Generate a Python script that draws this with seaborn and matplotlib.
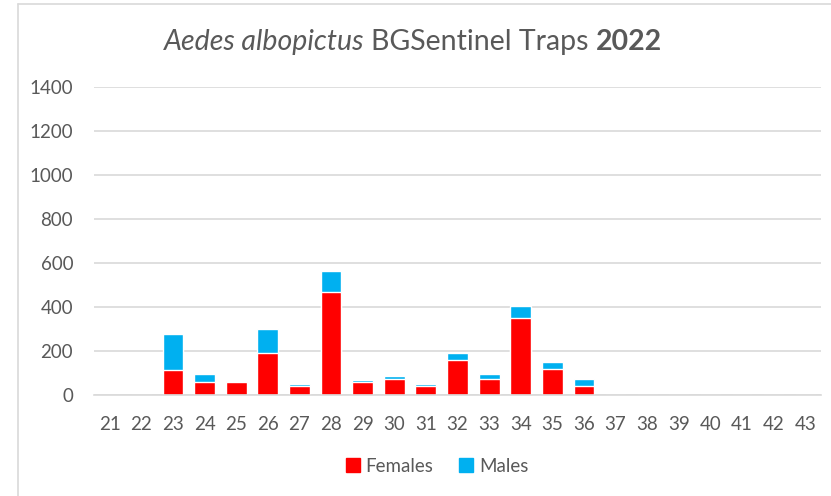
import matplotlib
matplotlib.use("Agg")
import matplotlib.pyplot as plt
import seaborn as sns
import pandas as pd
from matplotlib.patches import Patch
from matplotlib.lines import Line2D

weeks = [str(w) for w in range(21, 44)]
females = [0, 2, 115, 57, 58, 190, 40, 468, 58, 71, 40, 160, 72, 350, 120, 40,
           0, 0, 0, 0, 0, 0, 0]
males = [0, 0, 162, 38, 7, 112, 10, 94, 8, 17, 10, 32, 24, 53, 32, 35,
         0, 0, 0, 0, 0, 0, 0]
yticks = [0, 200, 400, 600, 800, 1000, 1200, 1400]

df = pd.DataFrame({"week": weeks, "Females": females, "Males": males})
df["total"] = df["Females"] + df["Males"]

sns.set_theme(style="white")
plt.rcParams["font.family"] = ["Lato", "DejaVu Sans"]
grey = "#595959"
red = "#FF0000"
blue = "#00B0F0"

fig = plt.figure(figsize=(8.31, 4.96), dpi=100)
ax = fig.add_axes([94 / 831, 1 - 395 / 496, (821 - 94) / 831, (395 - 87) / 496])

# stacked: total in blue, females drawn over it in red
sns.barplot(data=df, x="week", y="total", color=blue, width=0.66,
            saturation=1, ax=ax, order=weeks)
sns.barplot(data=df, x="week", y="Females", color=red, width=0.66,
            saturation=1, ax=ax, order=weeks)

ax.set_ylim(0, 1400)
ax.set_yticks(yticks)
ax.set_xlim(-0.5, len(weeks) - 0.5)
ax.set_xlabel("")
ax.set_ylabel("")
ax.yaxis.grid(True, color="#D9D9D9", linewidth=1.2)
ax.set_axisbelow(True)
for s in ["top", "right", "left"]:
    ax.spines[s].set_visible(False)
ax.spines["bottom"].set_color("#D9D9D9")
ax.spines["bottom"].set_linewidth(1.2)
ax.tick_params(axis="both", length=0, labelsize=13.5, colors=grey)
ax.tick_params(axis="y", pad=15)
ax.tick_params(axis="x", pad=15)

# title in three styled pieces
fig.canvas.draw()
renderer = fig.canvas.get_renderer()
parts = [("Aedes albopictus ", "italic", "normal"),
         ("BGSentinel Traps ", "normal", "normal"),
         ("2022", "normal", "bold")]
texts = []
for s, st, wt in parts:
    t = fig.text(0, 1 - 42 / 496, s, fontsize=20.5, style=st, weight=wt,
                 color=grey, va="center", ha="left")
    texts.append(t)
widths = [t.get_window_extent(renderer).width for t in texts]
x0 = 413 - sum(widths) / 2
for t, w in zip(texts, widths):
    t.set_x(x0 / 831)
    x0 += w

handles = [Patch(color=red, label="Females"), Patch(color=blue, label="Males")]
fig.legend(handles=handles, loc="center", bbox_to_anchor=(437 / 831, 1 - 466 / 496),
           ncol=2, frameon=False, fontsize=13.5, labelcolor=grey,
           handlelength=0.75, handleheight=0.75, handletextpad=0.3, columnspacing=1.4)

# chart area border (left and top visible)
fig.add_artist(Line2D([18 / 831, 18 / 831], [0, 1 - 4 / 496], color="#D9D9D9", lw=1.2))
fig.add_artist(Line2D([18 / 831, 1], [1 - 4 / 496, 1 - 4 / 496], color="#D9D9D9", lw=1.2))

fig.savefig("out.png", dpi=100)
